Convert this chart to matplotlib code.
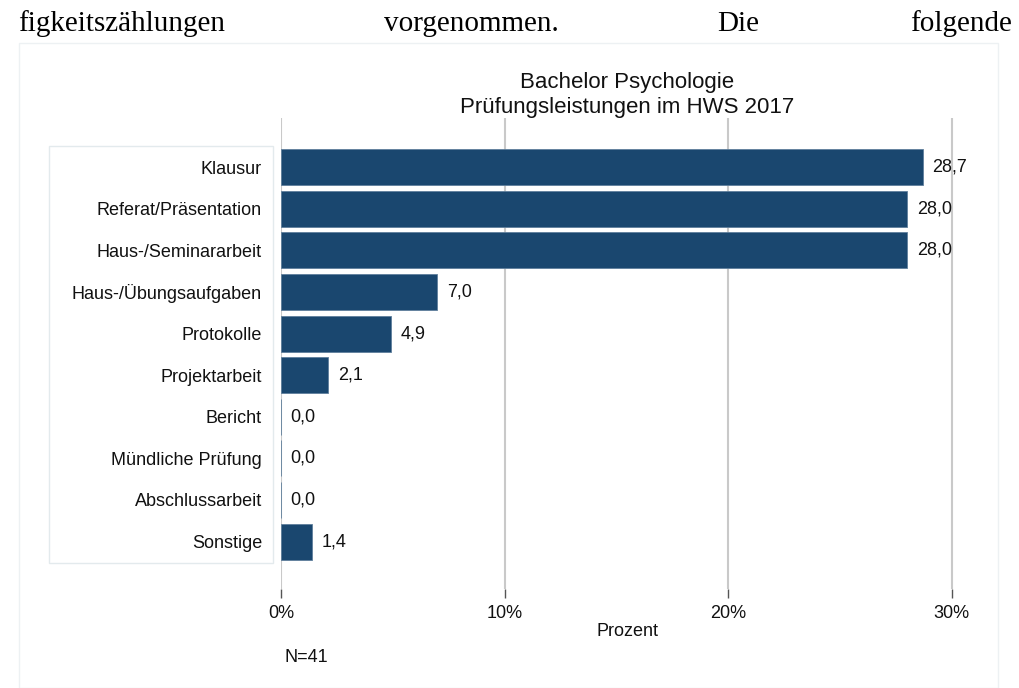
import matplotlib.pyplot as plt
from matplotlib.patches import Rectangle

# data
categories = ["Klausur", "Referat/Präsentation", "Haus-/Seminararbeit",
              "Haus-/Übungsaufgaben", "Protokolle", "Projektarbeit",
              "Bericht", "Mündliche Prüfung", "Abschlussarbeit", "Sonstige"]
values = [28.7, 28.0, 28.0, 7.0, 4.9, 2.1, 0.0, 0.0, 0.0, 1.4]
xticks = [0, 10, 20, 30]
xticklabels = ["0%", "10%", "20%", "30%"]
title_lines = ["Bachelor Psychologie", "Prüfungsleistungen im HWS 2017"]
note = "N=41"
header_words = ["figkeitszählungen", "vorgenommen.", "Die", "folgende"]

W, H = 1020, 688
plt.rcParams['font.family'] = ['Liberation Sans', 'DejaVu Sans']

fig = plt.figure(figsize=(W / 100, H / 100), dpi=100)

def fx(px):
    return px / W

def fy(py):
    return 1 - py / H

# running text line from the document above the graph
serif = ['Liberation Serif', 'DejaVu Serif']
hx = [(18, 'left'), (384, 'left'), (738, 'center'), (1012, 'right')]
for word, (x, ha) in zip(header_words, hx):
    fig.text(fx(x), fy(31), word, ha=ha, va='baseline', fontsize=21,
             family=serif, color='black')

# outer frame of the graph region and the label panel (behind the axes)
fig.patches.append(Rectangle((fx(19), fy(688)), fx(998) - fx(19), fy(43) - fy(688),
                             transform=fig.transFigure, facecolor='white',
                             edgecolor='#edf1f3', lw=1, zorder=-2))
fig.patches.append(Rectangle((fx(49), fy(563)), fx(273) - fx(49), fy(146) - fy(563),
                             transform=fig.transFigure, facecolor='white',
                             edgecolor='#e3eaed', lw=1, zorder=-1))

ax = fig.add_axes([fx(281), fy(589), fx(974) - fx(281), fy(118) - fy(589)])
ax.patch.set_alpha(0)

ypos = list(range(len(categories)))
ax.barh(ypos, values, height=0.865, color='#1a476f', edgecolor='#5f7f9c',
        linewidth=0.6, zorder=3)

for y, v in zip(ypos, values):
    ax.annotate(f"{v:.1f}".replace('.', ','), (v, y), xytext=(7, 0),
                textcoords='offset points', ha='left', va='center',
                fontsize=13, color='#111111')

ax.set_xlim(0, 31)
ax.set_ylim(len(categories) - 1 + 1.14, -1.18)

ax.set_yticks(ypos)
ax.set_yticklabels(categories, fontsize=13, color='#111111')
ax.tick_params(axis='y', length=0, pad=13.7)

ax.set_xticks(xticks)
ax.set_xticklabels(xticklabels, fontsize=13, color='#111111')
ax.tick_params(axis='x', length=6.5, width=1, color='#555555', pad=5)

ax.grid(axis='x', color='#c9c9c9', linewidth=1.5, zorder=1)
for s in ax.spines.values():
    s.set_visible(False)

fig.text(fx(627.5), fy(95), "\n".join(title_lines), ha='center', va='center',
         fontsize=16, linespacing=1.3, color='#111111')
fig.text(fx(627.5), fy(632), "Prozent", ha='center', va='center',
         fontsize=13, color='#111111')
fig.text(fx(285), fy(658), note, ha='left', va='center', fontsize=13,
         color='#111111')

fig.savefig("out.png", dpi=100)
